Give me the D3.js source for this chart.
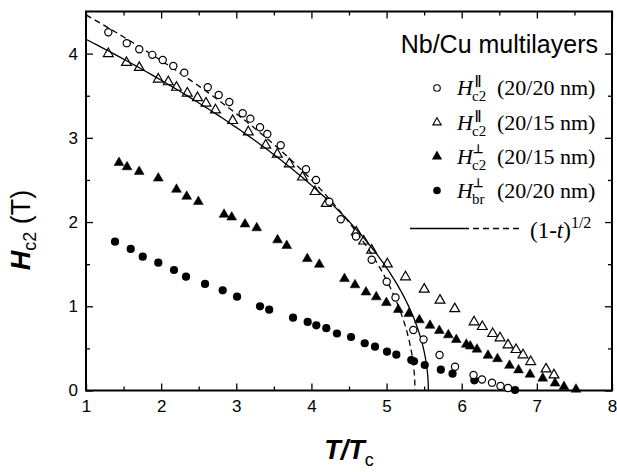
<!DOCTYPE html>
<html>
<head>
<meta charset="utf-8">
<script src="https://cdn.jsdelivr.net/npm/d3@7"></script>
<style>
    body { margin: 0; background: #fff; }
    svg { display: block; }
    .axis text { font-family: "Liberation Sans", Arial, sans-serif; font-size: 17px; fill: #000; }
    .axis line { stroke: #000; stroke-width: 1.3; }
    .legend { font-family: "Liberation Serif", "Times New Roman", serif; fill: #000; }
</style>
</head>
<body>
<script>
// tick labels
const xTicks = [1, 2, 3, 4, 5, 6, 7, 8];
const xMinorTicks = [1.5, 2.5, 3.5, 4.5, 5.5, 6.5, 7.5];
const yTicks = [0, 1, 2, 3, 4];
const yMinorTicks = [0.5, 1.5, 2.5, 3.5];

// H_c2 parallel, 20/20 nm (open circles)
const parCircleT = [1.297, 1.542, 1.709, 1.882, 2.021, 2.162, 2.308, 2.620, 2.766, 2.907, 3.085, 3.187, 3.316, 3.413, 3.591, 3.928, 4.061, 4.238, 4.390, 4.593, 4.802, 5.002, 5.119, 5.356, 5.492, 5.705, 5.911, 6.157, 6.270, 6.403, 6.516, 6.616];
const parCircleH = [4.254, 4.124, 4.052, 3.985, 3.925, 3.854, 3.774, 3.601, 3.509, 3.426, 3.292, 3.228, 3.126, 3.046, 2.912, 2.627, 2.500, 2.242, 2.033, 1.829, 1.553, 1.292, 1.105, 0.719, 0.606, 0.421, 0.283, 0.184, 0.131, 0.093, 0.053, 0.030];

// H_c2 parallel, 20/15 nm (open triangles)
const parTriT = [1.297, 1.539, 1.709, 1.962, 2.095, 2.204, 2.348, 2.484, 2.597, 2.723, 2.952, 3.160, 3.392, 3.546, 3.706, 3.881, 4.048, 4.198, 4.597, 4.696, 4.802, 5.010, 5.252, 5.501, 5.711, 5.907, 6.164, 6.274, 6.412, 6.510, 6.616, 6.723, 6.816, 6.918, 7.122, 7.228];
const parTriH = [3.999, 3.893, 3.834, 3.696, 3.664, 3.599, 3.530, 3.476, 3.411, 3.331, 3.204, 3.070, 2.912, 2.805, 2.690, 2.533, 2.361, 2.219, 1.880, 1.773, 1.665, 1.502, 1.348, 1.202, 1.071, 0.970, 0.814, 0.758, 0.675, 0.624, 0.540, 0.485, 0.422, 0.342, 0.255, 0.184];

// H_c2 perpendicular, 20/15 nm (filled triangles)
const perpTriT = [1.439, 1.546, 1.708, 1.962, 2.204, 2.340, 2.495, 2.837, 2.939, 3.116, 3.272, 3.549, 3.671, 3.945, 4.105, 4.440, 4.580, 4.726, 4.863, 4.997, 5.156, 5.296, 5.436, 5.578, 5.702, 5.822, 5.928, 6.061, 6.114, 6.203, 6.350, 6.476, 6.636, 6.756, 6.909, 7.078, 7.242, 7.361, 7.521];
const perpTriH = [2.705, 2.654, 2.599, 2.520, 2.387, 2.304, 2.242, 2.090, 2.057, 1.975, 1.930, 1.787, 1.719, 1.564, 1.496, 1.327, 1.253, 1.167, 1.110, 1.042, 0.960, 0.911, 0.837, 0.772, 0.710, 0.659, 0.603, 0.546, 0.526, 0.489, 0.416, 0.376, 0.297, 0.243, 0.192, 0.145, 0.086, 0.045, 0.014];

// H_br perpendicular, 20/20 nm (filled circles)
const perpCircleT = [1.386, 1.595, 1.755, 1.962, 2.171, 2.331, 2.584, 2.819, 3.010, 3.316, 3.438, 3.755, 3.950, 4.065, 4.198, 4.340, 4.527, 4.709, 4.846, 5.006, 5.130, 5.329, 5.365, 5.508, 5.722, 5.878, 6.168, 6.710];
const perpCircleH = [1.767, 1.681, 1.589, 1.518, 1.431, 1.352, 1.265, 1.190, 1.114, 1.000, 0.960, 0.865, 0.814, 0.774, 0.740, 0.677, 0.635, 0.561, 0.520, 0.461, 0.425, 0.362, 0.347, 0.303, 0.247, 0.200, 0.121, 0.006];

// (1-t)^1/2 fits: amplitude and end point
const fitSolid = [4.605, 5.556];
const fitDashed = [4.943, 5.378];

// legend texts
const legendTitle = 'Nb/Cu multilayers';
const legendSup = ['||', '||', '\u22A5', '\u22A5'];
const legendSub = ['c2', 'c2', 'c2', 'br'];
const legendNote = ['(20/20 nm)', '(20/15 nm)', '(20/15 nm)', '(20/20 nm)'];

// graph constants
const w = 617;
const h = 472;
const plotLeft = 86;
const plotRight = 612;
const plotTop = 11.5;
const plotBottom = 390.5;

const svg = d3.select('body')
    .append('svg')
    .attr('width', w)
    .attr('height', h);

// x and y scales
const xScale = d3.scaleLinear().domain([1, 8]).range([plotLeft, plotRight]);
const yScale = d3.scaleLinear().domain([0, 4.5]).range([plotBottom, plotTop]);

// axes, ticks pointing inward on all four sides
const noDomain = g => g.select('.domain').remove();
svg.append('g').attr('class', 'axis')
    .attr('transform', `translate(0, ${plotBottom})`)
    .call(d3.axisBottom(xScale).tickValues(xTicks).tickSizeInner(-7).tickSizeOuter(0).tickPadding(9).tickFormat(d3.format('d')))
    .call(noDomain);
svg.append('g').attr('class', 'axis')
    .attr('transform', `translate(0, ${plotBottom})`)
    .call(d3.axisBottom(xScale).tickValues(xMinorTicks).tickSize(-4).tickFormat(''))
    .call(noDomain);
svg.append('g').attr('class', 'axis')
    .attr('transform', `translate(0, ${plotTop})`)
    .call(d3.axisTop(xScale).tickValues(xTicks).tickSize(-7).tickFormat(''))
    .call(noDomain);
svg.append('g').attr('class', 'axis')
    .attr('transform', `translate(0, ${plotTop})`)
    .call(d3.axisTop(xScale).tickValues(xMinorTicks).tickSize(-4).tickFormat(''))
    .call(noDomain);
svg.append('g').attr('class', 'axis')
    .attr('transform', `translate(${plotLeft}, 0)`)
    .call(d3.axisLeft(yScale).tickValues(yTicks).tickSizeInner(-7).tickSizeOuter(0).tickPadding(8).tickFormat(d3.format('d')))
    .call(noDomain);
svg.append('g').attr('class', 'axis')
    .attr('transform', `translate(${plotLeft}, 0)`)
    .call(d3.axisLeft(yScale).tickValues(yMinorTicks).tickSize(-4).tickFormat(''))
    .call(noDomain);
svg.append('g').attr('class', 'axis')
    .attr('transform', `translate(${plotRight}, 0)`)
    .call(d3.axisRight(yScale).tickValues(yTicks).tickSize(-7).tickFormat(''))
    .call(noDomain);
svg.append('g').attr('class', 'axis')
    .attr('transform', `translate(${plotRight}, 0)`)
    .call(d3.axisRight(yScale).tickValues(yMinorTicks).tickSize(-4).tickFormat(''))
    .call(noDomain);

// frame
svg.append('rect')
    .attr('x', plotLeft).attr('y', plotTop)
    .attr('width', plotRight - plotLeft).attr('height', plotBottom - plotTop)
    .attr('fill', 'none').attr('stroke', '#000').attr('stroke-width', 2);

svg.append('clipPath').attr('id', 'plot-clip')
    .append('rect')
    .attr('x', plotLeft).attr('y', plotTop)
    .attr('width', plotRight - plotLeft).attr('height', plotBottom - plotTop);

// fit curves H = H0 (1 - T/Tend)^1/2, stepped in H so the vertical end is smooth
const fitPoints = ([h0, tEnd]) => {
    const hStart = h0 * Math.sqrt(1 - 1 / tEnd);
    return d3.range(0, 121).map(i => {
        const hv = hStart * (1 - i / 120);
        return [tEnd * (1 - (hv / h0) ** 2), hv];
    });
};
const line = d3.line().x(d => xScale(d[0])).y(d => yScale(d[1]));
const curves = svg.append('g').attr('clip-path', 'url(#plot-clip)');
curves.append('path')
    .attr('d', line(fitPoints(fitSolid)))
    .attr('fill', 'none').attr('stroke', '#000').attr('stroke-width', 1.3);
curves.append('path')
    .attr('d', line(fitPoints(fitDashed)))
    .attr('fill', 'none').attr('stroke', '#000').attr('stroke-width', 1.3)
    .attr('stroke-dasharray', '6,4');

// markers
const triangle = d3.symbol(d3.symbolTriangle, 42)();
const drawCircles = (ts, hs, filled) => svg.append('g').selectAll('circle')
    .data(ts).enter().append('circle')
    .attr('cx', d => xScale(d))
    .attr('cy', (d, i) => yScale(hs[i]))
    .attr('r', filled ? 4.1 : 3.6)
    .attr('fill', filled ? '#000' : '#fff')
    .attr('stroke', '#000').attr('stroke-width', filled ? 0 : 1.2);
const drawTriangles = (ts, hs, filled) => svg.append('g').selectAll('path')
    .data(ts).enter().append('path')
    .attr('d', triangle)
    .attr('transform', (d, i) => `translate(${xScale(d)}, ${yScale(hs[i])})`)
    .attr('fill', filled ? '#000' : 'none')
    .attr('stroke', '#000').attr('stroke-width', filled ? 0.5 : 1.2);

drawCircles(perpCircleT, perpCircleH, true);
drawTriangles(perpTriT, perpTriH, true);
drawTriangles(parTriT, parTriH, false);
drawCircles(parCircleT, parCircleH, false);

// legend
svg.append('text')
    .attr('x', 598).attr('y', 53)
    .attr('text-anchor', 'end')
    .attr('font-family', '"Liberation Sans", Arial, sans-serif')
    .attr('font-size', 25)
    .text(legendTitle);

const legendY = [88, 122.5, 156.5, 190.5];
const symX = 437;
const legend = svg.append('g').attr('class', 'legend');
legendY.forEach((y, i) => {
    const g = legend.append('g');
    if (i % 3 === 0) {
        g.append('circle').attr('cx', symX).attr('cy', y).attr('r', i === 0 ? 3.3 : 3.8)
            .attr('fill', i === 0 ? '#fff' : '#000').attr('stroke', '#000').attr('stroke-width', i === 0 ? 1.1 : 0);
    } else {
        g.append('path').attr('d', d3.symbol(d3.symbolTriangle, 30)())
            .attr('transform', `translate(${symX}, ${y})`)
            .attr('fill', i === 2 ? '#000' : '#fff').attr('stroke', '#000').attr('stroke-width', 1.1);
    }
    g.append('text').attr('x', 457).attr('y', y + 7)
        .attr('font-size', 22).attr('font-style', 'italic').text('H');
    g.append('text').attr('x', i < 2 ? 475 : 473).attr('y', y - 4)
        .attr('font-size', 12).attr('font-family', '"Liberation Sans", Arial, sans-serif')
        .attr('font-weight', 'bold').attr('letter-spacing', -0.5)
        .style('opacity', 0.999).text(legendSup[i]);
    g.append('text').attr('x', 472).attr('y', y + 13)
        .attr('font-size', 15).text(legendSub[i]);
    g.append('text').attr('x', 497).attr('y', y + 7)
        .attr('font-size', 22)
        .text(legendNote[i]);
});

// fit legend line
legend.append('line')
    .attr('x1', 410).attr('x2', 463).attr('y1', 228.5).attr('y2', 228.5)
    .attr('stroke', '#000').attr('stroke-width', 1.3);
legend.append('line')
    .attr('x1', 463).attr('x2', 522).attr('y1', 228.5).attr('y2', 228.5)
    .attr('stroke', '#000').attr('stroke-width', 1.3).attr('stroke-dasharray', '6,4');
const fitLabel = legend.append('text').attr('x', 530).attr('y', 238).attr('font-size', 23);
fitLabel.append('tspan').text('(1-');
fitLabel.append('tspan').attr('font-style', 'italic').text('t');
fitLabel.append('tspan').text(')');
fitLabel.append('tspan').attr('font-size', 16).attr('dy', -10).text('1/2');

// axis titles
const yTitle = svg.append('text')
    .attr('transform', 'translate(30, 230) rotate(-90)')
    .attr('text-anchor', 'middle')
    .attr('font-family', '"Liberation Sans", Arial, sans-serif')
    .attr('font-size', 27);
yTitle.append('tspan').attr('font-weight', 'bold').attr('font-style', 'italic').text('H');
yTitle.append('tspan').attr('font-size', 18).attr('dy', 6).text('c2');
yTitle.append('tspan').attr('dy', -6).text(' (T)');

const xTitle = svg.append('text')
    .attr('x', 349).attr('y', 459)
    .attr('text-anchor', 'middle')
    .attr('font-family', '"Liberation Sans", Arial, sans-serif')
    .attr('font-size', 27);
xTitle.append('tspan').attr('font-weight', 'bold').attr('font-style', 'italic').text('T/T');
xTitle.append('tspan').attr('font-size', 18).attr('dy', 7).text('c');
</script>
</body>
</html>
